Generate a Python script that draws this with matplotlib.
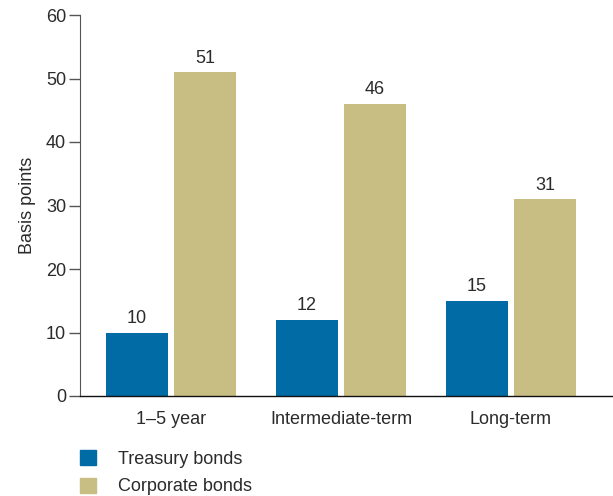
import matplotlib
matplotlib.use("Agg")
import matplotlib.pyplot as plt
import numpy as np
from matplotlib.patches import Patch

categories = ["1–5 year", "Intermediate-term", "Long-term"]
treasury = [10, 12, 15]
corporate = [51, 46, 31]
series_names = ["Treasury bonds", "Corporate bonds"]
yticks = [0, 10, 20, 30, 40, 50, 60]

blue = "#006ba4"
tan = "#c8bd82"
txt = "#2b2b2b"

plt.rcParams['font.family'] = ['Liberation Sans', 'DejaVu Sans']
FS = 13

fig = plt.figure(figsize=(6.13, 4.96), dpi=100)
ax = fig.add_axes([80/613, 1-396/496, 1-80/613, (396-15)/496])

x = np.arange(len(categories))
w = 0.365
off = 0.2
b1 = ax.bar(x - off, treasury, w, color=blue)
b2 = ax.bar(x + off, corporate, w, color=tan)
for bars, vals in ((b1, treasury), (b2, corporate)):
    for r, v in zip(bars, vals):
        ax.annotate(str(v), (r.get_x() + r.get_width()/2, v), xytext=(0, 4),
                    textcoords="offset points", ha="center", va="bottom",
                    fontsize=FS, color=txt)

ax.set_xlim(-0.535, 2.6)
ax.set_ylim(0, 60)
ax.set_yticks(yticks)
ax.set_xticks(x)
ax.set_xticklabels(categories)
ax.tick_params(axis='x', length=0, pad=11, labelsize=FS, colors=txt)
ax.tick_params(axis='y', length=8, width=1, color="#555555", labelsize=FS, labelcolor=txt, pad=2)
for s in ("top", "right"):
    ax.spines[s].set_visible(False)
ax.spines["left"].set_color("#555555")
ax.spines["bottom"].set_color("#111111")
ax.spines["bottom"].set_linewidth(1.0)
ax.set_ylabel("Basis points", fontsize=FS, color=txt, labelpad=7)

handles = [Patch(color=blue), Patch(color=tan)]
fig.legend(handles, series_names, loc="upper left", bbox_to_anchor=(80/613, 1-450/496),
           frameon=False, fontsize=FS, handlelength=0.88, handleheight=0.9,
           handletextpad=1.2, labelspacing=0.55, labelcolor=txt,
           borderpad=0, borderaxespad=0)

fig.savefig("out.png", dpi=100)
